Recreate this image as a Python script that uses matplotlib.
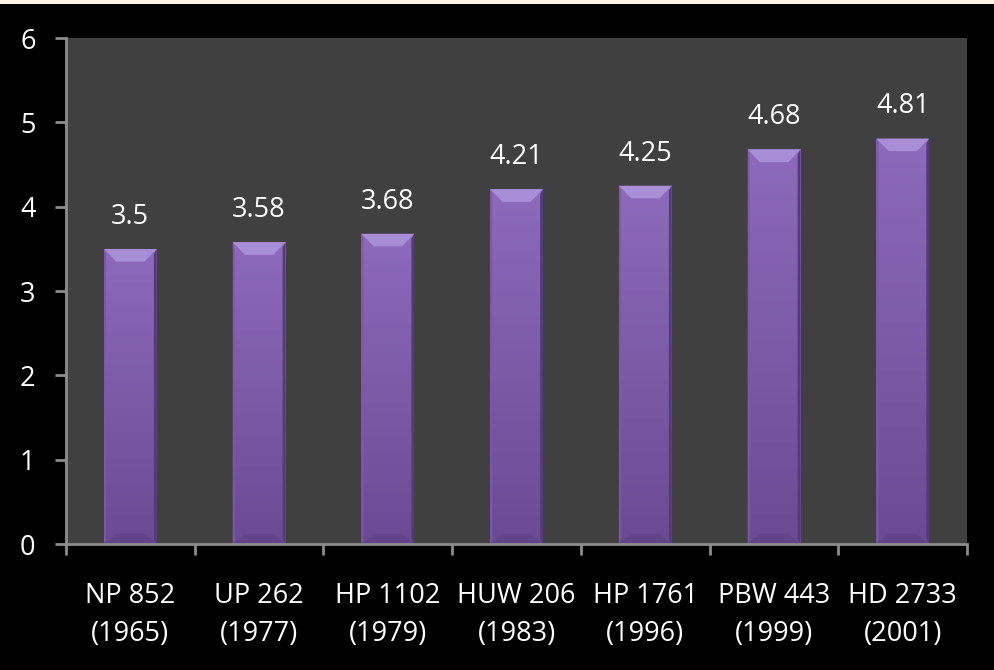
import numpy as np
import matplotlib.pyplot as plt
from matplotlib.patches import Rectangle, Polygon
from matplotlib.colors import LinearSegmentedColormap

# Variedades de trigo e produtividade (t/ha)
variedades = ['NP 852\n(1965)', 'UP 262\n(1977)', 'HP 1102\n(1979)', 'HUW 206\n(1983)',
              'HP 1761\n(1996)', 'PBW 443\n(1999)', 'HD 2733\n(2001)']
rendimento = [3.5, 3.58, 3.68, 4.21, 4.25, 4.68, 4.81]
yticks = [0, 1, 2, 3, 4, 5, 6]

plt.rcParams['font.family'] = ['Open Sans', 'DejaVu Sans']

fig = plt.figure(figsize=(9.94, 6.70), dpi=100, facecolor='black')
ax = fig.add_axes([0.0664, 0.188, 0.9066, 0.755])
ax.set_facecolor('#404040')

# faixa clara no topo
fig.patches.append(Rectangle((0, 0.994), 1, 0.006, transform=fig.transFigure,
                             facecolor='#fdf5e2', edgecolor='none'))

x = np.arange(len(rendimento))
w = 0.41
ax.set_xlim(-0.5, len(rendimento) - 0.5)
ax.set_ylim(0, 6)

cmap = LinearSegmentedColormap.from_list('roxo', ['#6a4b93', '#8d6abb'])
# tamanho do chanfro em unidades de dados (~12 px)
bx, by = 0.095, 0.15
grad = np.linspace(0, 1, 256).reshape(-1, 1)
for xi, v in zip(x, rendimento):
    l, r = xi - w / 2, xi + w / 2
    base = ax.bar(xi, v, w, color='#7d5aa9', zorder=2)[0]
    im = ax.imshow(grad, cmap=cmap, origin='lower', extent=[l, r, 0, v],
                   aspect='auto', zorder=3)
    im.set_clip_path(base)
    # chanfros: topo claro, lados e base escuros
    ax.add_patch(Polygon([[l, v], [r, v], [r - bx, v - by], [l + bx, v - by]],
                         closed=True, facecolor='#a88ed6', edgecolor='none', zorder=4))
    ax.add_patch(Polygon([[r, v], [r, 0], [r - 0.022, 0.06], [r - 0.022, v - 0.06]],
                         closed=True, facecolor='#55397a', edgecolor='none', zorder=4))
    ax.add_patch(Polygon([[l, v], [l, 0], [l + 0.015, 0.05], [l + 0.015, v - 0.05]],
                         closed=True, facecolor='#7a5aa6', edgecolor='none', zorder=4))
    ax.add_patch(Polygon([[l, 0], [r, 0], [r - bx, by * 0.8], [l + bx, by * 0.8]],
                         closed=True, facecolor='#62448b', edgecolor='none', zorder=4))
    ax.annotate(f'{v:g}', (xi, v), xytext=(0, 13), textcoords='offset points',
                ha='center', va='bottom', color='white', fontsize=19.5)

ax.set_yticks(yticks)
ax.set_yticklabels([str(t) for t in yticks])
ax.set_xticks(x)
ax.set_xticklabels(variedades, linespacing=1.5)
ax.set_xticks(np.arange(-0.5, len(rendimento)), minor=True)
ax.tick_params(axis='x', which='major', length=0, pad=27, colors='white', labelsize=19.5)
ax.tick_params(axis='x', which='minor', length=8, width=2, color='#8c8c8c', direction='out')
ax.tick_params(axis='y', length=8, width=2, color='#8c8c8c', colors='white',
               labelsize=19.5, pad=14)
for s in ['top', 'right']:
    ax.spines[s].set_visible(False)
for s in ['left', 'bottom']:
    ax.spines[s].set_color('#8c8c8c')
    ax.spines[s].set_linewidth(2)
    ax.spines[s].set_zorder(5)

plt.savefig('out.png', dpi=100, facecolor='black')
